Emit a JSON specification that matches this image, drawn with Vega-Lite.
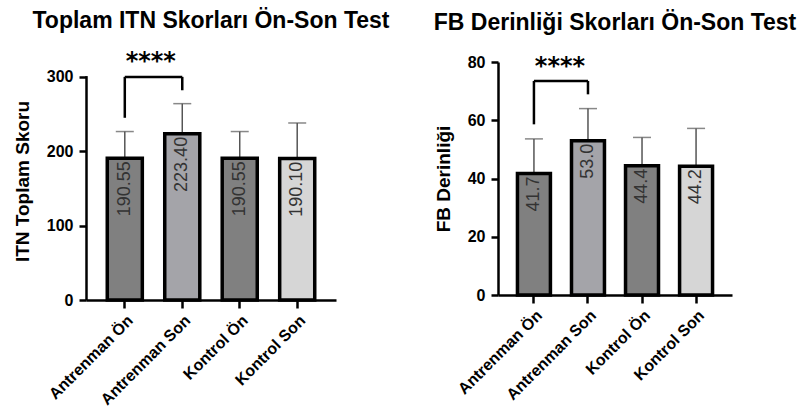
{
  "$schema": "https://vega.github.io/schema/vega-lite/v6.json",
  "background": "white",
  "padding": {"left": 13, "top": 10, "right": 5, "bottom": 5},
  "spacing": 43,
  "config": {
    "view": {"stroke": null},
    "font": "Liberation Sans",
    "axis": {
      "grid": false,
      "domainColor": "black",
      "domainWidth": 2.5,
      "tickColor": "black",
      "tickWidth": 2.5,
      "tickSize": 7,
      "labelFont": "Liberation Sans",
      "labelFontWeight": "bold",
      "labelFontSize": 16,
      "labelColor": "black",
      "labelPadding": 6,
      "titleFont": "Liberation Sans",
      "titleFontWeight": "bold",
      "titleFontSize": 19,
      "titleColor": "black"
    },
    "title": {"font": "Liberation Sans", "fontSize": 23, "fontWeight": "bold", "color": "black", "frame": "group", "anchor": "middle"}
  },
  "datasets": {
    "itn": [
      {"grup": "Antrenman Ön", "ort": 190.55, "ust": 226.5, "etiket": "190.55"},
      {"grup": "Antrenman Son", "ort": 223.4, "ust": 264, "etiket": "223.40"},
      {"grup": "Kontrol Ön", "ort": 190.55, "ust": 226.5, "etiket": "190.55"},
      {"grup": "Kontrol Son", "ort": 190.1, "ust": 238, "etiket": "190.10"}
    ],
    "itn_k": [
      {"grup": "Antrenman Ön", "grup2": "Antrenman Ön", "y1": 245, "y2": 300},
      {"grup": "Antrenman Ön", "grup2": "Antrenman Son", "y1": 300, "y2": 300},
      {"grup": "Antrenman Son", "grup2": "Antrenman Son", "y1": 282, "y2": 300}
    ],
    "itn_s": [{"grup": "Antrenman Ön", "y": 320, "metin": "****"}],
    "fb": [
      {"grup": "Antrenman Ön", "ort": 41.7, "ust": 53.6, "etiket": "41.7"},
      {"grup": "Antrenman Son", "ort": 53.0, "ust": 64.0, "etiket": "53.0"},
      {"grup": "Kontrol Ön", "ort": 44.4, "ust": 54.1, "etiket": "44.4"},
      {"grup": "Kontrol Son", "ort": 44.2, "ust": 57.2, "etiket": "44.2"}
    ],
    "fb_k": [
      {"grup": "Antrenman Ön", "grup2": "Antrenman Ön", "y1": 58.6, "y2": 73.5},
      {"grup": "Antrenman Ön", "grup2": "Antrenman Son", "y1": 73.5, "y2": 73.5},
      {"grup": "Antrenman Son", "grup2": "Antrenman Son", "y1": 68.9, "y2": 73.5}
    ],
    "fb_s": [{"grup": "Antrenman Ön", "y": 79, "metin": "****"}]
  },
  "hconcat": [
    {
      "width": 250,
      "height": 238,
      "title": {"text": "Toplam ITN Skorları Ön-Son Test", "offset": 17},
      "data": {"name": "itn"},
      "encoding": {
        "x": {
          "field": "grup", "type": "nominal", "sort": null,
          "scale": {"domain": ["Antrenman Ön", "Antrenman Son", "Kontrol Ön", "Kontrol Son"], "paddingInner": 0.39, "paddingOuter": 0.37},
          "axis": {"title": null, "labelAngle": -45, "labelFontSize": 16, "tickSize": 8, "labelPadding": 4}
        }
      },
      "layer": [
        {
          "mark": {"type": "rule", "color": "#555555", "strokeWidth": 1.5},
          "encoding": {
            "y": {"field": "ort", "type": "quantitative", "scale": {"domain": [0, 320], "nice": false}, "axis": {"values": [0, 100, 200, 300], "title": "ITN Toplam Skoru", "titlePadding": 14, "domainDash": [224.4, 40]}},
            "y2": {"field": "ust"}
          }
        },
        {
          "mark": {"type": "tick", "color": "#555555", "thickness": 1.5, "size": 18},
          "encoding": {"y": {"field": "ust", "type": "quantitative"}}
        },
        {
          "mark": {"type": "bar", "stroke": "black", "strokeWidth": 3.5},
          "encoding": {
            "y": {"field": "ort", "type": "quantitative"},
            "color": {"field": "grup", "type": "nominal", "legend": null, "scale": {"domain": ["Antrenman Ön", "Antrenman Son", "Kontrol Ön", "Kontrol Son"], "range": ["#808080", "#a4a4a9", "#808080", "#d6d6d6"]}}
          }
        },
        {
          "mark": {"type": "text", "angle": 270, "align": "right", "baseline": "middle", "dx": -3, "fontSize": 18, "color": "#333333"},
          "encoding": {"y": {"field": "ort", "type": "quantitative"}, "text": {"field": "etiket"}}
        },
        {
          "data": {"name": "itn_k"},
          "mark": {"type": "rule", "color": "black", "strokeWidth": 2.5},
          "encoding": {"x2": {"field": "grup2"}, "y": {"field": "y1", "type": "quantitative"}, "y2": {"field": "y2"}}
        },
        {
          "data": {"name": "itn_s"},
          "mark": {"type": "text", "font": "DejaVu Sans", "fontWeight": "bold", "fontSize": 24, "dx": 26, "dy": 0, "align": "center", "baseline": "middle", "color": "black"},
          "encoding": {"y": {"field": "y", "type": "quantitative"}, "text": {"field": "metin"}}
        }
      ]
    },
    {
      "width": 234,
      "height": 233,
      "title": {"text": "FB Derinliği Skorları Ön-Son Test", "offset": 19},
      "data": {"name": "fb"},
      "encoding": {
        "x": {
          "field": "grup", "type": "nominal", "sort": null,
          "scale": {"domain": ["Antrenman Ön", "Antrenman Son", "Kontrol Ön", "Kontrol Son"], "paddingInner": 0.39, "paddingOuter": 0.36},
          "axis": {"title": null, "labelAngle": -45, "labelFontSize": 16, "tickSize": 8, "labelPadding": 4}
        }
      },
      "layer": [
        {
          "mark": {"type": "rule", "color": "#555555", "strokeWidth": 1.5},
          "encoding": {
            "y": {"field": "ort", "type": "quantitative", "scale": {"domain": [0, 80], "nice": false}, "axis": {"values": [0, 20, 40, 60, 80], "title": "FB Derinliği", "titlePadding": 14}},
            "y2": {"field": "ust"}
          }
        },
        {
          "mark": {"type": "tick", "color": "#555555", "thickness": 1.5, "size": 18},
          "encoding": {"y": {"field": "ust", "type": "quantitative"}}
        },
        {
          "mark": {"type": "bar", "stroke": "black", "strokeWidth": 3.5},
          "encoding": {
            "y": {"field": "ort", "type": "quantitative"},
            "color": {"field": "grup", "type": "nominal", "legend": null, "scale": {"domain": ["Antrenman Ön", "Antrenman Son", "Kontrol Ön", "Kontrol Son"], "range": ["#808080", "#a4a4a9", "#808080", "#d6d6d6"]}}
          }
        },
        {
          "mark": {"type": "text", "angle": 270, "align": "right", "baseline": "middle", "dx": -3, "fontSize": 18, "color": "#333333"},
          "encoding": {"y": {"field": "ort", "type": "quantitative"}, "text": {"field": "etiket"}}
        },
        {
          "data": {"name": "fb_k"},
          "mark": {"type": "rule", "color": "black", "strokeWidth": 2.5},
          "encoding": {"x2": {"field": "grup2"}, "y": {"field": "y1", "type": "quantitative"}, "y2": {"field": "y2"}}
        },
        {
          "data": {"name": "fb_s"},
          "mark": {"type": "text", "font": "DejaVu Sans", "fontWeight": "bold", "fontSize": 24, "dx": 26, "dy": 2, "align": "center", "baseline": "middle", "color": "black"},
          "encoding": {"y": {"field": "y", "type": "quantitative"}, "text": {"field": "metin"}}
        }
      ]
    }
  ]
}
